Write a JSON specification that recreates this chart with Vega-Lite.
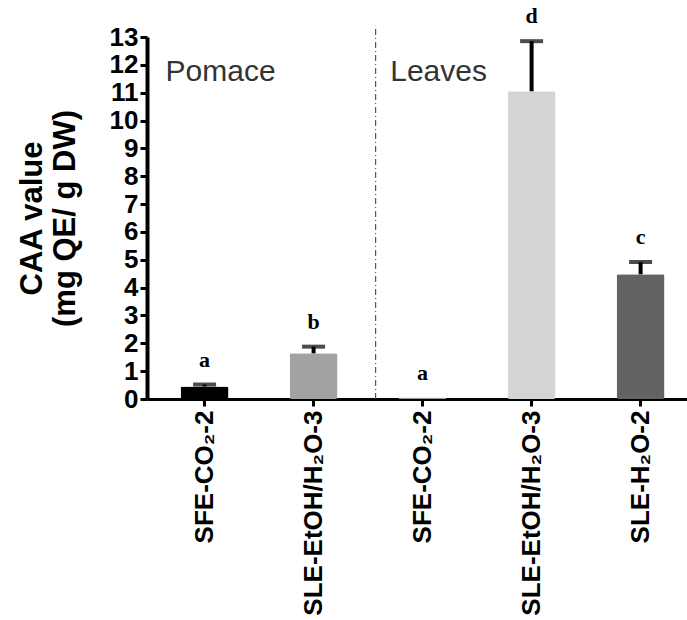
{
  "$schema": "https://vega.github.io/schema/vega-lite/v6.json",
  "width": 540,
  "height": 362,
  "autosize": {"type": "none"},
  "padding": {"left": 147, "top": 37, "right": 0, "bottom": 221},
  "background": "white",
  "config": {
    "view": {"stroke": null},
    "font": "Liberation Sans",
    "axis": {"grid": false},
    "axisY": {
      "labelOverlap": false,
      "labelFont": "Liberation Sans",
      "labelFontWeight": "bold",
      "labelFontSize": 26,
      "labelColor": "black",
      "labelPadding": 2,
      "domainColor": "black",
      "domainWidth": 4,
      "tickColor": "black",
      "tickWidth": 3,
      "tickSize": 7,
      "titleFont": "Liberation Sans",
      "titleFontWeight": "bold",
      "titleFontSize": 31,
      "titleLineHeight": 33,
      "titleColor": "black",
      "titlePadding": 28
    }
  },
  "datasets": {
    "bars": [
      {"id": "P1", "mean": 0.45, "upper": 0.52, "letter": "a"},
      {"id": "P2", "mean": 1.64, "upper": 1.88, "letter": "b"},
      {"id": "L1", "mean": 0.05, "upper": 0.05, "letter": "a"},
      {"id": "L2", "mean": 11.05, "upper": 12.85, "letter": "d"},
      {"id": "L3", "mean": 4.48, "upper": 4.92, "letter": "c"}
    ],
    "notes": [
      {"id": "P1", "mean": 11.75, "label": "Pomace"},
      {"id": "L1", "mean": 11.75, "label": "Leaves"}
    ],
    "divider": [
      {"id": "L1", "mean": 0, "upper": 13.4}
    ]
  },
  "encoding": {
    "x": {
      "field": "id", "type": "nominal", "sort": null,
      "scale": {"paddingInner": 0.56, "paddingOuter": 0.257, "align": 0.6},
      "axis": {
        "title": null,
        "labelExpr": "datum.value == 'P1' ? 'SFE-CO₂-2' : datum.value == 'P2' ? 'SLE-EtOH/H₂O-3' : datum.value == 'L1' ? 'SFE-CO₂-2' : datum.value == 'L2' ? 'SLE-EtOH/H₂O-3' : 'SLE-H₂O-2'",
        "labelAngle": -90,
        "labelAlign": "right",
        "labelBaseline": "middle",
        "labelFont": "Liberation Sans",
        "labelFontWeight": "bold",
        "labelFontSize": 26,
        "labelColor": "black",
        "labelPadding": 4,
        "labelOverlap": false,
        "labelLimit": 400,
        "domainColor": "black",
        "domainWidth": 3,
        "tickColor": "black",
        "tickWidth": 3,
        "tickSize": 7
      }
    },
    "y": {
      "field": "mean", "type": "quantitative",
      "scale": {"domain": [0, 13], "nice": false},
      "axis": {
        "title": ["CAA value", "(mg QE/ g DW)"],
        "values": [0,1,2,3,4,5,6,7,8,9,10,11,12,13],
        "labelOverlap": false
      }
    }
  },
  "layer": [
    {
      "data": {"name": "bars"},
      "mark": {"type": "bar", "cornerRadius": 2},
      "encoding": {
        "color": {
          "field": "id", "type": "nominal", "legend": null,
          "scale": {"domain": ["P1", "P2", "L1", "L2", "L3"], "range": ["#000000", "#a2a2a2", "#9a9a9a", "#d4d4d4", "#636363"]}
        }
      }
    },
    {
      "data": {"name": "bars"},
      "mark": {"type": "rule", "color": "black", "strokeWidth": 4},
      "encoding": {
        "y2": {"field": "upper"}
      }
    },
    {
      "data": {"name": "bars"},
      "transform": [{"filter": "datum.upper > datum.mean"}],
      "mark": {"type": "tick", "color": "black", "thickness": 4, "size": 23, "orient": "horizontal"},
      "encoding": {
        "y": {"field": "upper", "type": "quantitative"}
      }
    },
    {
      "data": {"name": "bars"},
      "mark": {"type": "text", "font": "Liberation Serif", "fontWeight": "bold", "fontSize": 22, "baseline": "middle", "dy": -25, "color": "black"},
      "encoding": {
        "y": {"field": "upper", "type": "quantitative"},
        "text": {"field": "letter"}
      }
    },
    {
      "data": {"name": "notes"},
      "mark": {"type": "text", "font": "Liberation Sans", "fontSize": 30, "baseline": "middle", "align": "center", "dx": 16, "color": "#333333"},
      "encoding": {
        "text": {"field": "label"}
      }
    },
    {
      "data": {"name": "divider"},
      "mark": {"type": "rule", "color": "#555555", "strokeWidth": 1.2, "strokeDash": [6, 3, 1, 3]},
      "encoding": {
        "x": {"field": "id", "type": "nominal", "sort": null, "bandPosition": -0.48},
        "y2": {"field": "upper"}
      }
    }
  ]
}
